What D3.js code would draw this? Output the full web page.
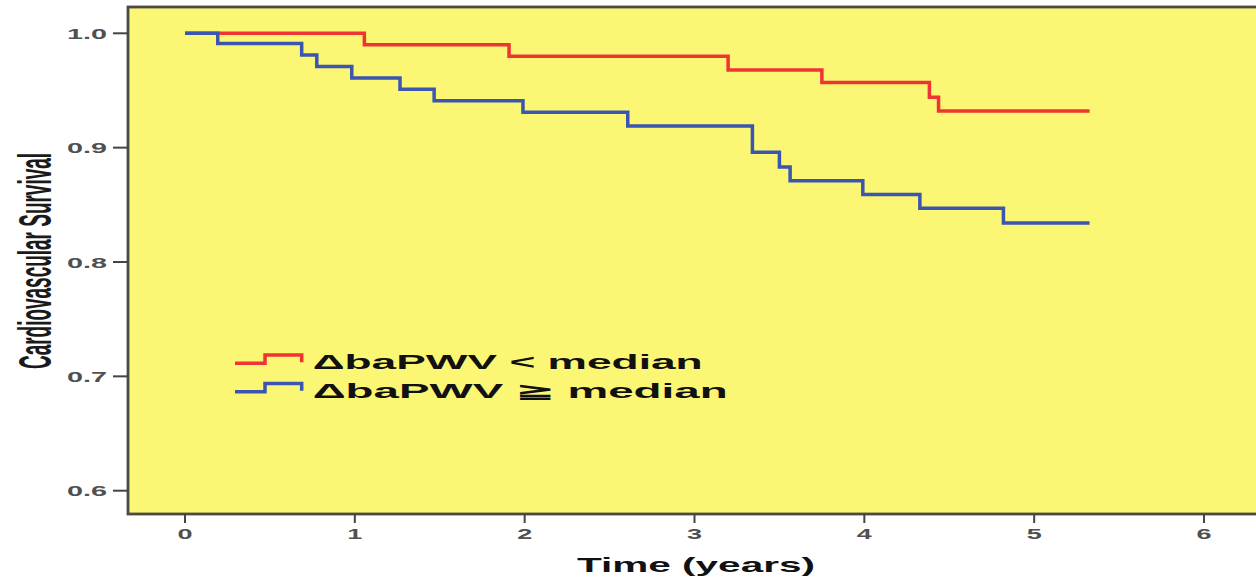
<!DOCTYPE html>
<html>
<head>
<meta charset="utf-8">
<script src="https://cdn.jsdelivr.net/npm/d3@7"></script>
<style>
  html, body { margin: 0; padding: 0; background: #ffffff; }
  svg { display: block; }
  text { font-family: "Liberation Sans", Arial, sans-serif; }
</style>
</head>
<body>
<svg id="chart" width="1256" height="577"></svg>
<script>
// Kaplan-Meier step data (time in years, cumulative survival)
const lowTimes = [0, 1.056, 1.908, 3.198, 3.75, 4.383, 4.437, 5.326];
const lowSurv  = [1.0, 0.990, 0.980, 0.968, 0.957, 0.944, 0.932, 0.932];

const highTimes = [0, 0.193, 0.687, 0.776, 0.982, 1.266, 1.467, 1.99, 2.607, 3.341, 3.50, 3.563, 3.991, 4.327, 4.819, 5.326];
const highSurv  = [1.0, 0.991, 0.981, 0.971, 0.961, 0.951, 0.941, 0.931, 0.919, 0.896, 0.883, 0.871, 0.859, 0.847, 0.834, 0.834];

const xTicks = [0, 1, 2, 3, 4, 5, 6];
const yTicks = [0.6, 0.7, 0.8, 0.9, 1.0];
const seriesNames = ["\u0394baPWV < median", "\u0394baPWV \u2267 median"];
const seriesColors = ["#ef3434", "#3b56b0"];

const svg = d3.select("#chart");

// plot frame
const frame = { left: 128, top: 7, right: 1264, bottom: 514 };

const x = d3.scaleLinear().domain([0, 6]).range([185, 1204]);
const y = d3.scaleLinear().domain([0.6, 1.0]).range([490.7, 33.3]);

svg.append("rect")
  .attr("x", frame.left).attr("y", frame.top)
  .attr("width", frame.right - frame.left).attr("height", frame.bottom - frame.top)
  .attr("fill", "#fbf774")
  .attr("stroke", "#4a4a44").attr("stroke-width", 2.8);

// y axis
const yAxis = svg.append("g");
yAxis.selectAll("line").data(yTicks).join("line")
  .attr("x1", frame.left - 15).attr("x2", frame.left)
  .attr("y1", d => y(d)).attr("y2", d => y(d))
  .attr("stroke", "#444").attr("stroke-width", 2);
yAxis.selectAll("text").data(yTicks).join("text")
  .attr("x", 107).attr("y", d => y(d) + 5.5)
  .attr("text-anchor", "end")
  .attr("font-size", 15).attr("font-weight", "bold")
  .attr("fill", "#505050")
  .attr("textLength", 40).attr("lengthAdjust", "spacingAndGlyphs")
  .text(d => d3.format(".1f")(d));

// x axis
const xAxis = svg.append("g");
xAxis.selectAll("line").data(xTicks).join("line")
  .attr("x1", d => x(d)).attr("x2", d => x(d))
  .attr("y1", frame.bottom).attr("y2", frame.bottom + 9)
  .attr("stroke", "#444").attr("stroke-width", 2);
xAxis.selectAll("text").data(xTicks).join("text")
  .attr("x", d => x(d)).attr("y", 539)
  .attr("text-anchor", "middle")
  .attr("font-size", 15).attr("font-weight", "bold")
  .attr("fill", "#505050")
  .attr("textLength", 15).attr("lengthAdjust", "spacingAndGlyphs")
  .text(d => d);

// axis titles
svg.append("text")
  .attr("x", 696).attr("y", 572)
  .attr("text-anchor", "middle")
  .attr("font-size", 21).attr("font-weight", "bold")
  .attr("fill", "#111")
  .attr("textLength", 238).attr("lengthAdjust", "spacingAndGlyphs")
  .text("Time (years)");

svg.append("text")
  .attr("transform", "translate(51,261) rotate(-90) scale(1,2.7)")
  .attr("text-anchor", "middle")
  .style("font-family", "'Liberation Sans Narrow', 'Liberation Sans', Arial, sans-serif")
  .attr("font-size", 17).attr("font-weight", "bold")
  .attr("fill", "#1a1a1a")
  .attr("textLength", 216).attr("lengthAdjust", "spacingAndGlyphs")
  .text("Cardiovascular Survival");

// survival curves
const step = d3.line()
  .x(d => x(d[0]))
  .y(d => y(d[1]))
  .curve(d3.curveStepAfter);

const series = [
  d3.zip(lowTimes, lowSurv),
  d3.zip(highTimes, highSurv)
];

svg.append("g").selectAll("path").data(series).join("path")
  .attr("d", step)
  .attr("fill", "none")
  .attr("stroke", (d, i) => seriesColors[i])
  .attr("stroke-width", 3.5)
  .attr("stroke-linejoin", "miter");

// legend
const legend = svg.append("g");
const legendRows = [0, 1];
const rowY = [363.3, 391.7];
const glyph = ry => `M235,${ry}H265V${ry - 8.3}H301.7V${ry - 1}`;
legend.selectAll("path").data(legendRows).join("path")
  .attr("d", i => glyph(rowY[i]))
  .attr("fill", "none")
  .attr("stroke", i => seriesColors[i])
  .attr("stroke-width", 3.5);
legend.selectAll("text").data(legendRows).join("text")
  .attr("x", 312.7).attr("y", i => rowY[i] + 6)
  .attr("font-size", 20).attr("font-weight", "bold")
  .attr("fill", "#111")
  .attr("textLength", i => i === 0 ? 390 : 415)
  .attr("lengthAdjust", "spacingAndGlyphs")
  .text(i => seriesNames[i]);
</script>
</body>
</html>
